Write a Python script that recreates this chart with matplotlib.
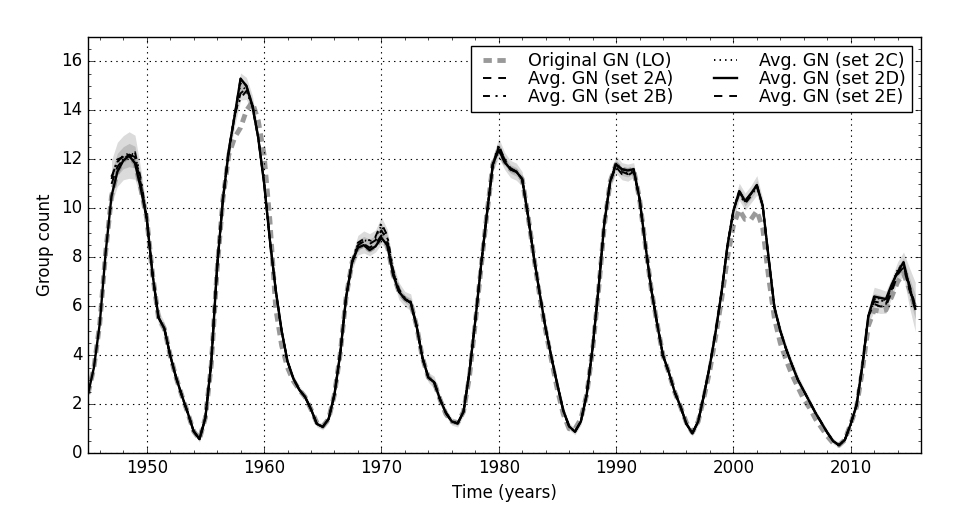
import numpy as np
import matplotlib
matplotlib.use('Agg')
import matplotlib.pyplot as plt
from matplotlib.ticker import MultipleLocator

plt.style.use('classic')
plt.rcParams['lines.scale_dashes'] = False
plt.rcParams['axes.formatter.useoffset'] = False

nan = np.nan
years = np.arange(1945.0, 2016.0, 0.5)

# set 2D (solid) - rows of 5 years
gn_2d = [2.43, 3.5, 5.3, 8.2, 10.5, 11.5, 11.95, 12.15, 11.85, 10.8,
         9.6, 7.3, 5.55, 5.1, 4.0, 3.1, 2.35, 1.65, 0.9, 0.58,
         1.45, 3.7, 7.6, 10.4, 12.4, 13.8, 15.3, 15.0, 14.2, 12.9,
         11.05, 8.7, 6.65, 5.0, 3.75, 3.05, 2.6, 2.3, 1.8, 1.2,
         1.08, 1.4, 2.4, 4.1, 6.4, 7.8, 8.4, 8.5, 8.3, 8.45,
         8.8, 8.5, 7.3, 6.6, 6.3, 6.15, 5.2, 3.9, 3.1, 2.9,
         2.2, 1.65, 1.3, 1.22, 1.7, 3.3, 5.4, 7.7, 9.8, 11.8,
         12.4, 11.9, 11.6, 11.5, 11.2, 9.7, 8.0, 6.5, 5.1, 3.9,
         2.8, 1.75, 1.1, 0.88, 1.3, 2.4, 4.3, 6.7, 9.4, 11.1,
         11.8, 11.6, 11.55, 11.6, 10.4, 8.5, 6.7, 5.3, 4.0, 3.3,
         2.5, 1.9, 1.2, 0.82, 1.3, 2.4, 3.6, 5.0, 6.6, 8.5,
         9.9, 10.7, 10.3, 10.6, 10.95, 10.1, 8.0, 5.95, 5.0, 4.25,
         3.6, 3.0, 2.55, 2.1, 1.65, 1.25, 0.85, 0.5, 0.33, 0.55,
         1.2, 1.97, 3.6, 5.6, 6.4, 6.35, 6.3, 6.9, 7.4, 7.8,
         6.8, 5.9]

gn_lo = [2.43, 3.5, 5.3, 8.2, 10.5, 11.5, 11.95, 12.15, 11.85, 10.8,
         9.6, 7.3, 5.55, 5.1, 4.0, 3.1, 2.35, 1.65, 0.9, 0.58,
         1.45, 3.6, 7.5, 10.4, 12.2, 12.9, 13.3, 14.0, 14.35, 13.6,
         12.2, 9.5, 5.9, 4.4, 3.5, 2.95, 2.6, 2.3, 1.8, 1.25,
         1.1, 1.4, 2.4, 4.1, 6.4, 7.8, 8.4, 8.5, 8.3, 8.45,
         8.8, 8.5, 7.3, 6.6, 6.3, 6.15, 5.2, 3.9, 3.1, 2.9,
         2.2, 1.6, 1.3, 1.25, 1.7, 3.1, 5.3, 7.6, 9.8, 11.8,
         12.4, 11.9, 11.6, 11.5, 11.2, 9.7, 8.0, 6.4, 5.0, 3.8,
         2.6, 1.6, 1.0, 1.0, 1.4, 2.4, 4.2, 6.6, 9.3, 11.1,
         11.8, 11.6, 11.55, 11.6, 10.4, 8.5, 6.7, 5.3, 4.0, 3.3,
         2.5, 1.9, 1.25, 0.85, 1.3, 2.3, 3.4, 4.8, 6.3, 8.0,
         9.3, 9.95, 9.55, 9.55, 9.9, 9.2, 7.2, 5.5, 4.5, 3.8,
         3.2, 2.7, 2.2, 1.85, 1.4, 1.05, 0.7, 0.42, 0.33, 0.55,
         1.2, 1.9, 3.4, 5.2, 5.85, 5.8, 5.85, 6.4, 7.0, 7.35,
         6.7, 5.9]

gn_2a = [nan, nan, nan, nan, 11.3, 11.9, 12.15, 12.2, 12.1, 11.0,
         9.6, 7.3, 5.55, 5.1, 4.0, 3.1, 2.35, 1.65, 0.9, 0.58,
         1.45, 3.7, 7.6, 10.4, 12.4, 13.8, 14.7, 14.9, 14.3, 12.9,
         11.05, 8.7, 6.65, 5.0, 3.75, 3.05, 2.6, 2.3, 1.8, 1.2,
         1.08, 1.4, 2.4, 4.1, 6.4, 7.8, 8.5, 8.65, 8.55, 8.7,
         9.1, 8.7, 7.4, 6.6, 6.3, 6.15, 5.2, 3.9, 3.1, 2.9,
         2.2, 1.65, 1.3, 1.22, 1.7, 3.3, 5.4, 7.7, 9.8, 11.8,
         12.5, 12.0, 11.6, 11.5, 11.2, 9.7, 8.0, 6.5, 5.1, 3.9,
         2.8, 1.75, 1.1, 0.88, 1.3, 2.4, 4.3, 6.7, 9.4, 11.1,
         11.7, 11.4, 11.35, 11.5, 10.4, 8.5, 6.7, 5.3, 4.0, 3.3,
         2.5, 1.9, 1.2, 0.82, 1.3, 2.4, 3.6, 5.0, 6.6, 8.5,
         9.9, 10.7, 10.3, 10.6, 10.95, 10.1, 8.0, 5.95, 5.0, 4.25,
         3.6, 3.0, 2.55, 2.1, 1.65, 1.25, 0.85, 0.5, 0.33, 0.55,
         1.2, 1.97, 3.6, 5.6, 6.2, 6.15, 6.1, 6.7, 7.4, 7.7,
         6.9, 6.0]

gn_2b = [nan, nan, nan, nan, 11.2, 12.0, 12.1, 12.1, 12.3, 11.2,
         9.6, 7.3, 5.55, 5.1, 4.0, 3.1, 2.35, 1.65, 0.9, 0.58,
         1.45, 3.7, 7.6, 10.4, 12.2, 13.9, 14.5, 14.8, 14.2, 12.9,
         11.05, 8.7, 6.65, 5.0, 3.75, 3.05, 2.6, 2.3, 1.8, 1.2,
         1.08, 1.4, 2.4, 4.1, 6.4, 7.8, 8.6, 8.75, 8.7, 8.85,
         9.4, 8.9, 7.5, 6.7, 6.35, 6.2, 5.2, 3.9, 3.1, 2.9,
         2.2, 1.65, 1.3, 1.22, 1.7, 3.3, 5.4, 7.7, 9.8, 11.8,
         12.6, 12.0, 11.65, 11.5, 11.2, 9.7, 8.0, 6.5, 5.1, 3.9,
         2.8, 1.75, 1.1, 0.88, 1.3, 2.4, 4.3, 6.7, 9.4, 11.1,
         11.9, 11.5, 11.4, 11.6, 10.4, 8.5, 6.7, 5.3, 4.0, 3.3,
         2.5, 1.9, 1.2, 0.82, 1.3, 2.4, 3.6, 5.0, 6.6, 8.5,
         9.9, 10.6, 10.2, 10.5, 10.9, 10.1, 8.0, 5.95, 5.0, 4.25,
         3.6, 3.0, 2.55, 2.1, 1.65, 1.25, 0.85, 0.5, 0.33, 0.55,
         1.2, 1.97, 3.6, 5.6, 6.3, 6.25, 6.2, 6.8, 7.5, 7.7,
         6.7, 6.1]

gn_2c = [nan, nan, nan, nan, 11.3, 11.9, 12.15, 12.25, 12.2, 11.1,
         9.6, 7.3, 5.55, 5.1, 4.0, 3.1, 2.35, 1.65, 0.9, 0.58,
         1.45, 3.7, 7.6, 10.4, 12.4, 13.8, 15.1, 14.8, 14.2, 12.9,
         11.05, 8.7, 6.65, 5.0, 3.75, 3.05, 2.6, 2.3, 1.8, 1.2,
         1.08, 1.4, 2.4, 4.1, 6.4, 7.8, 8.55, 8.7, 8.65, 8.8,
         9.3, 8.8, 7.4, 6.6, 6.3, 6.15, 5.2, 3.9, 3.1, 2.9,
         2.2, 1.65, 1.3, 1.22, 1.7, 3.3, 5.4, 7.7, 9.8, 11.8,
         12.5, 11.9, 11.6, 11.5, 11.2, 9.7, 8.0, 6.5, 5.1, 3.9,
         2.8, 1.75, 1.1, 0.88, 1.3, 2.4, 4.3, 6.7, 9.4, 11.1,
         11.8, 11.5, 11.45, 11.55, 10.4, 8.5, 6.7, 5.3, 4.0, 3.3,
         2.5, 1.9, 1.2, 0.82, 1.3, 2.4, 3.6, 5.0, 6.6, 8.5,
         9.9, 10.7, 10.3, 10.6, 10.95, 10.1, 8.0, 5.95, 5.0, 4.25,
         3.6, 3.0, 2.55, 2.1, 1.65, 1.25, 0.85, 0.5, 0.33, 0.55,
         1.2, 1.97, 3.6, 5.6, 6.4, 6.3, 6.25, 6.85, 7.5, 7.8,
         6.8, 6.0]

gn_2e = [nan, nan, nan, nan, 11.0, 11.7, 12.0, 12.2, 12.0, 10.9,
         9.6, 7.3, 5.55, 5.1, 4.0, 3.1, 2.35, 1.65, 0.9, 0.58,
         1.45, 3.7, 7.6, 10.4, 12.4, 13.8, 15.3, 15.0, 14.2, 12.9,
         11.05, 8.7, 6.65, 5.0, 3.75, 3.05, 2.6, 2.3, 1.8, 1.2,
         1.08, 1.4, 2.4, 4.1, 6.4, 7.8, 8.45, 8.55, 8.4, 8.55,
         8.9, 8.6, 7.3, 6.6, 6.3, 6.15, 5.2, 3.9, 3.1, 2.9,
         2.2, 1.65, 1.3, 1.22, 1.7, 3.3, 5.4, 7.7, 9.8, 11.8,
         12.4, 11.9, 11.6, 11.5, 11.2, 9.7, 8.0, 6.5, 5.1, 3.9,
         2.8, 1.75, 1.1, 0.88, 1.3, 2.4, 4.3, 6.7, 9.4, 11.1,
         11.8, 11.6, 11.55, 11.6, 10.4, 8.5, 6.7, 5.3, 4.0, 3.3,
         2.5, 1.9, 1.2, 0.82, 1.3, 2.4, 3.6, 5.0, 6.6, 8.5,
         9.9, 10.7, 10.3, 10.6, 10.95, 10.1, 8.0, 5.95, 5.0, 4.25,
         3.6, 3.0, 2.55, 2.1, 1.65, 1.25, 0.85, 0.5, 0.33, 0.55,
         1.2, 1.97, 3.6, 5.6, 6.1, 6.0, 6.0, 6.6, 7.3, 7.6,
         6.7, 5.9]

# spread of the averaged sets (outer band half-width)
band_err = [nan, nan, nan, nan, 0.9, 0.9, 0.9, 0.95, 0.9, 0.6,
            0.35, 0.25, 0.3, 0.25, 0.2, 0.15, 0.15, 0.15, 0.12, 0.12,
            0.15, 0.2, 0.25, 0.25, 0.35, 0.45, 0.55, 0.45, 0.4, 0.3,
            0.25, 0.2, 0.2, 0.2, 0.15, 0.15, 0.15, 0.15, 0.12, 0.12,
            0.12, 0.15, 0.2, 0.2, 0.25, 0.3, 0.4, 0.45, 0.45, 0.45,
            0.55, 0.45, 0.35, 0.35, 0.3, 0.35, 0.25, 0.2, 0.2, 0.25,
            0.2, 0.15, 0.15, 0.15, 0.15, 0.2, 0.2, 0.2, 0.25, 0.3,
            0.4, 0.35, 0.35, 0.35, 0.3, 0.25, 0.2, 0.2, 0.2, 0.2,
            0.15, 0.15, 0.15, 0.12, 0.15, 0.2, 0.2, 0.2, 0.25, 0.3,
            0.35, 0.35, 0.35, 0.3, 0.25, 0.2, 0.2, 0.2, 0.15, 0.15,
            0.15, 0.15, 0.12, 0.12, 0.15, 0.15, 0.2, 0.2, 0.2, 0.25,
            0.3, 0.35, 0.35, 0.35, 0.4, 0.3, 0.25, 0.2, 0.2, 0.2,
            0.2, 0.2, 0.15, 0.15, 0.12, 0.12, 0.12, 0.12, 0.1, 0.1,
            0.12, 0.15, 0.2, 0.3, 0.5, 0.5, 0.45, 0.4, 0.4, 0.5,
            0.8, 1.0]

fig = plt.figure(figsize=(9.57, 5.22), dpi=100, facecolor='w')
ax = fig.add_axes([0.092, 0.1316, 0.8705, 0.7975])

sets = np.array([gn_2a, gn_2b, gn_2c, gn_2d, gn_2e])
mid = np.nanmean(sets, axis=0)
err = np.array(band_err)
ax.fill_between(years, mid - err, mid + err, color='0.86', lw=0)
ax.fill_between(years, mid - err / 2, mid + err / 2, color='0.74', lw=0)

ax.plot(years, gn_lo, color='0.6', lw=3.5, dashes=(6, 4), label='Original GN (LO)')
ax.plot(years, gn_2a, color='k', lw=1.4, dashes=(6, 5), label='Avg. GN (set 2A)')
ax.plot(years, gn_2b, color='k', lw=1.4, dashes=(5, 4, 1.5, 4), label='Avg. GN (set 2B)')
ax.plot(years, gn_2c, color='k', lw=1.4, dashes=(1, 3), label='Avg. GN (set 2C)')
ax.plot(years, gn_2d, color='k', lw=1.7, ls='-', label='Avg. GN (set 2D)')
ax.plot(years, gn_2e, color='k', lw=1.4, dashes=(6, 5), label='Avg. GN (set 2E)')

ax.set_xlim(1945, 2016)
ax.set_ylim(0, 17)
ax.xaxis.set_major_locator(MultipleLocator(10))
ax.xaxis.set_minor_locator(MultipleLocator(2))
ax.yaxis.set_major_locator(MultipleLocator(2))
ax.yaxis.set_minor_locator(MultipleLocator(0.5))
ax.grid(True, which='major', linestyle=':', color='k', lw=0.8)
ax.set_xlabel('Time (years)', fontsize=12)
ax.set_ylabel('Group count', fontsize=12)
ax.tick_params(labelsize=12)

ax.legend(loc='upper right', ncol=2, fontsize=12.6, handlelength=1.9,
          handletextpad=1.0, labelspacing=0.0, borderpad=0.35,
          columnspacing=2.0, numpoints=2, borderaxespad=0.5)

fig.savefig('out.png', dpi=100, facecolor='w')
